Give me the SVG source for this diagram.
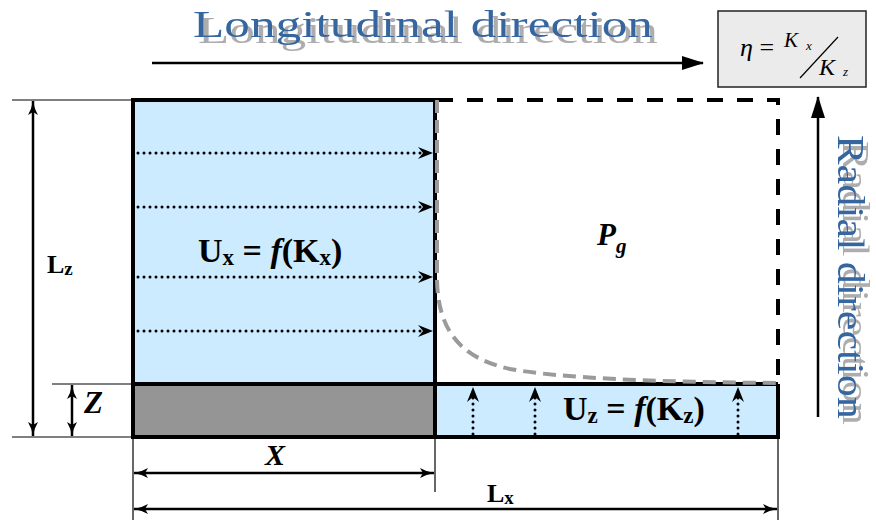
<svg xmlns="http://www.w3.org/2000/svg" width="876" height="522" viewBox="0 0 876 522">
<defs>
<style>
.ser{font-family:"Liberation Serif","Times New Roman",serif;}
.b{font-weight:bold}
.i{font-style:italic}
.dirB{font-family:"Liberation Serif","Times New Roman",serif;font-size:37px;fill:#3566A0}
.thin{stroke:#000;stroke-width:1.2;fill:none}
.dim{stroke:#000;stroke-width:2.5;fill:none;marker-start:url(#dimA);marker-end:url(#dimA)}
.dot{stroke:#000;stroke-width:3;stroke-dasharray:0 6;stroke-linecap:round;fill:none;marker-end:url(#chev)}
.edge{stroke:#000;stroke-width:4;fill:none}
.blue{fill:#CCEBFF}
</style>
<filter id="shH" x="-5%" y="-30%" width="115%" height="160%">
<feOffset in="SourceAlpha" dx="5" dy="6" result="o"/>
<feFlood flood-color="#ADADAD"/>
<feComposite in2="o" operator="in" result="s"/>
<feMerge><feMergeNode in="s"/><feMergeNode in="SourceGraphic"/></feMerge>
</filter>
<filter id="shV" x="-5%" y="-30%" width="115%" height="160%">
<feOffset in="SourceAlpha" dx="6" dy="-5" result="o"/>
<feFlood flood-color="#ADADAD"/>
<feComposite in2="o" operator="in" result="s"/>
<feMerge><feMergeNode in="s"/><feMergeNode in="SourceGraphic"/></feMerge>
</filter>
<marker id="dimA" viewBox="0 0 14 10" refX="14" refY="5" markerWidth="14" markerHeight="10" markerUnits="userSpaceOnUse" orient="auto-start-reverse">
<path d="M0,0 Q6,3.6 14,5 Q6,6.4 0,10 L3,5 Z" fill="#000"/>
</marker>
<marker id="chev" viewBox="0 0 15 12" refX="5" refY="6" markerWidth="15" markerHeight="12" markerUnits="userSpaceOnUse" orient="auto">
<path d="M0,0 L15,6 L0,12 L5,6 Z" fill="#000"/>
</marker>
<marker id="big" viewBox="0 0 22 14" refX="21" refY="7" markerWidth="22" markerHeight="14" markerUnits="userSpaceOnUse" orient="auto">
<path d="M0,0 L22,7 L0,14 Z" fill="#000"/>
</marker>
</defs>
<rect width="876" height="522" fill="#fff"/>

<g id="longitudinal-label">
<text class="dirB" x="193" y="37" textLength="460" lengthAdjust="spacingAndGlyphs" filter="url(#shH)">Longitudinal direction</text>
</g>

<g id="radial-label" transform="translate(838,135) rotate(90)">
<text class="dirB" x="0" y="0" textLength="284" lengthAdjust="spacingAndGlyphs" filter="url(#shV)">Radial direction</text>
</g>

<g id="eta-box">
<rect x="718" y="11" width="148" height="76" fill="#EBEBEB" stroke="#222" stroke-width="1.5"/>
<text class="ser" x="740" y="56" font-size="26"><tspan class="i">η</tspan> =</text>
<text class="ser i" x="784" y="47" font-size="21">K</text>
<text class="ser i" x="806" y="50" font-size="13">x</text>
<line x1="800" y1="78" x2="838" y2="37" stroke="#000" stroke-width="1.2"/>
<text class="ser i" x="819" y="75" font-size="24">K</text>
<text class="ser i" x="843" y="76" font-size="13">z</text>
</g>

<g id="fills">
<rect class="blue" x="133" y="100" width="302" height="284"/>
<rect x="133" y="384" width="302" height="53" fill="#959595"/>
<rect class="blue" x="435" y="384" width="343" height="53"/>
</g>

<g id="domain-outline">
<path class="edge" d="M133,100 L435,100 M133,98 L133,439 M131,437 L780,437 M133,384 L778,384 M435,98 L435,439 M778,384 L778,439"/>
<path d="M437,100 L778,100 L778,384" fill="none" stroke="#000" stroke-width="4" stroke-dasharray="16 14"/>
<path d="M437,100 L437,280 C438,330 460,358 510,369 C560,378 650,382 778,383" fill="none" stroke="#9A9A9A" stroke-width="4" stroke-dasharray="13 7"/>
</g>

<g id="connectors">
<line class="dot" x1="138" y1="153" x2="423" y2="153"/>
<line class="dot" x1="138" y1="207" x2="423" y2="207"/>
<line class="dot" x1="138" y1="277" x2="423" y2="277"/>
<line class="dot" x1="138" y1="331" x2="423" y2="331"/>
<line class="dot" x1="473" y1="434" x2="473" y2="397"/>
<line class="dot" x1="535" y1="434" x2="535" y2="397"/>
<line class="dot" x1="738" y1="434" x2="738" y2="397"/>
<line x1="152" y1="63" x2="703" y2="63" stroke="#000" stroke-width="2.5" marker-end="url(#big)"/>
<line x1="818" y1="417" x2="818" y2="97" stroke="#000" stroke-width="2.5" marker-end="url(#big)"/>
</g>

<g id="dimensions">
<line class="thin" x1="12" y1="100" x2="133" y2="100"/>
<line class="thin" x1="12" y1="437" x2="133" y2="437"/>
<line class="thin" x1="52" y1="384" x2="133" y2="384"/>
<line class="thin" x1="133" y1="437" x2="133" y2="520"/>
<line class="thin" x1="435" y1="437" x2="435" y2="492"/>
<line class="thin" x1="778" y1="437" x2="778" y2="520"/>
<line class="dim" x1="33" y1="101" x2="33" y2="436"/>
<line class="dim" x1="72" y1="385" x2="72" y2="436"/>
<line class="dim" x1="134" y1="473" x2="434" y2="473"/>
<line class="dim" x1="134" y1="509" x2="777" y2="509"/>
</g>

<g id="labels">
<text class="ser b" x="198" y="262" font-size="34">U<tspan font-size="23" dy="3">x</tspan><tspan dy="-3"> = </tspan><tspan class="i">f</tspan>(K<tspan font-size="23" dy="3">x</tspan><tspan dy="-3">)</tspan></text>
<text class="ser b" x="563" y="420" font-size="34">U<tspan font-size="23" dy="3">z</tspan><tspan dy="-3"> = </tspan><tspan class="i">f</tspan>(K<tspan font-size="23" dy="3">z</tspan><tspan dy="-3">)</tspan></text>
<text class="ser b i" x="597" y="245" font-size="31">P<tspan font-size="21" dy="8">g</tspan></text>
<text class="ser b" x="47" y="273" font-size="26">L<tspan font-size="19" dy="2">z</tspan></text>
<text class="ser b i" x="84" y="413" font-size="31">Z</text>
<text class="ser b i" x="265" y="465" font-size="30">X</text>
<text class="ser b" x="487" y="502" font-size="26">L<tspan font-size="19" dy="2">x</tspan></text>
</g>
</svg>
